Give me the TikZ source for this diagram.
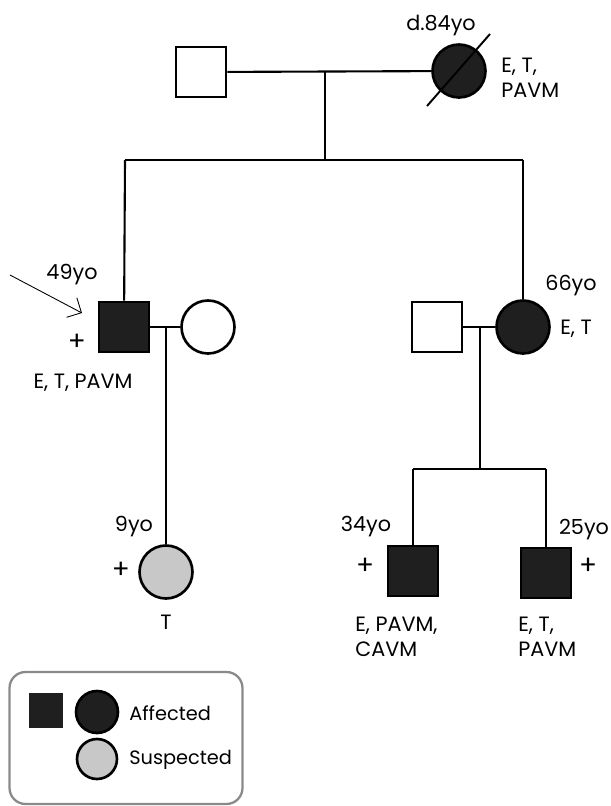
\documentclass[tikz,border=0pt]{standalone}
\usepackage{fontspec}
\setmainfont{Poppins}
\usetikzlibrary{arrows.meta,positioning}
\definecolor{suspgray}{HTML}{C8C8C8}
\definecolor{boxgray}{HTML}{8A8A8A}

\begin{document}
\begin{tikzpicture}[
  x=0.02cm, y=-0.02cm,
  font=\fontsize{11.8}{14}\selectfont,
  male/.style={draw=black, line width=1.5pt, rectangle, minimum size=1.0cm, inner sep=0pt},
  female/.style={draw=black, line width=1.5pt, circle, minimum size=1.06cm, inner sep=0pt},
  aff/.style={fill=black!88},
  susp/.style={fill=suspgray},
  tie/.style={line width=1.2pt},
  txt/.style={inner sep=0pt, align=left},
  plus/.style={inner sep=0pt, font=\fontsize{15}{15}\selectfont},
  legtxt/.style={txt, anchor=west, font=\fontsize{11}{13}\selectfont}
]
\useasboundingbox (0,0) rectangle (610,806);

% first generation
\node[male] (gfather) at (201,72) {};
\node[female, aff] (gmother) at (459,71) {};
\coordinate (slashA) at (427,106);
\coordinate (slashB) at (490,34);
\draw[line width=1.1pt] (slashA) -- (slashB);
\node[txt] (gmage) at (441,25) {d.84yo};
\node[txt, anchor=west] (gmdx) at (501,78) {E, T,\\PAVM};
\coordinate (gdrop) at (325,71);
\coordinate (gsib) at (325,160);
\coordinate (gsibL) at (125,160);
\coordinate (gsibR) at (523,160);
\draw[tie] (gfather) -- (gmother);
\draw[tie] (gdrop) -- (gsib);
\draw[tie] (gsibL) -- (gsibR);

% left branch
\node[male, aff] (son) at (124,327) {};
\node[female] (wife) at (208,327) {};
\node[txt] (sonage) at (72,275) {49yo};
\node[plus] (sonplus) at (77,342) {+};
\node[txt] (sondx) at (83,383) {E, T, PAVM};
\coordinate (proband) at (10,275);
\coordinate (probtip) at (82,313);
\draw[-{Straight Barb[length=2.2mm]}, line width=0.5pt] (proband) -- (probtip);
\draw[tie] (gsibL) -- (son);
\draw[tie] (son) -- (wife);
\coordinate (ldrop) at (166,327);

\node[female, susp] (gchild) at (166,572) {};
\node[txt] (gcage) at (134,527) {9yo};
\node[plus] (gcplus) at (121,570) {+};
\node[txt] (gcdx) at (166,622) {T};
\draw[tie] (ldrop) -- (gchild);

% right branch
\node[male] (husb) at (437,327) {};
\node[female, aff] (daut) at (523,327) {};
\node[txt] (dage) at (571,286) {66yo};
\node[txt, anchor=west] (ddx) at (560,329) {E, T};
\draw[tie] (gsibR) -- (daut);
\draw[tie] (husb) -- (daut);
\coordinate (rdrop) at (480,327);
\coordinate (rsib) at (480,469);
\coordinate (rsibL) at (413,469);
\coordinate (rsibR) at (546,469);
\draw[tie] (rdrop) -- (rsib);
\draw[tie] (rsibL) -- (rsibR);

\node[male, aff] (gsonA) at (413,571) {};
\node[male, aff] (gsonB) at (546,573) {};
\node[txt] (gsAage) at (366,527) {34yo};
\node[plus] (gsAplus) at (365,566) {+};
\node[txt, anchor=west] (gsAdx) at (355,637) {E, PAVM,\\CAVM};
\node[txt] (gsBage) at (584,530) {25yo};
\node[plus] (gsBplus) at (588,566) {+};
\node[txt, anchor=west] (gsBdx) at (518,637) {E, T,\\PAVM};
\draw[tie] (rsibL) -- (gsonA);
\draw[tie] (rsibR) -- (gsonB);

% legend
\node[draw=boxgray, line width=1.3pt, rounded corners=0.32cm,
  minimum width=4.66cm, minimum height=2.64cm] (legend) at (126,738) {};
\node[rectangle, fill=black!88, minimum size=0.7cm, inner sep=0pt] (legsq) at (46,710) {};
\node[female, aff, minimum size=0.84cm] (legaff) at (97,712) {};
\node[female, susp, minimum size=0.8cm] (legsus) at (97,759) {};
\node[legtxt] (legafft) at (129,713) {Affected};
\node[legtxt] (legsust) at (129,760) {Suspected};
\end{tikzpicture}
\end{document}
